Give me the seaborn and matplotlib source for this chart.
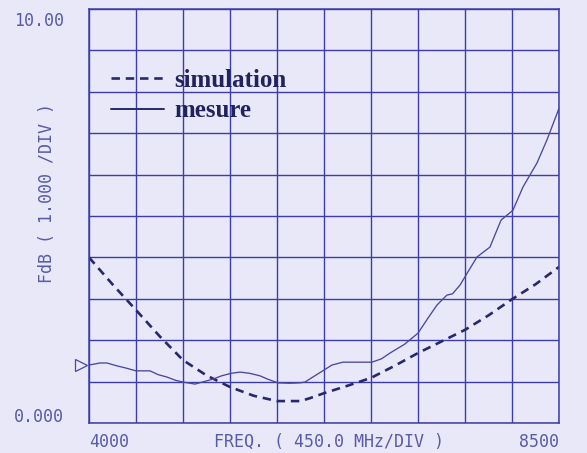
import numpy as np
import pandas as pd
import seaborn as sns
import matplotlib.pyplot as plt
from matplotlib.lines import Line2D
from matplotlib.transforms import ScaledTranslation

# --- data (MHz, dB) ---
sim_freq = [4000, 4225, 4450, 4675, 4900, 5125, 5350, 5575, 5800, 6025, 6115,
            6250, 6475, 6700, 6925, 7150, 7375, 7600, 7825, 8050, 8275, 8500]
sim_fdb = [4.00, 3.35, 2.73, 2.10, 1.52, 1.15, 0.87, 0.66, 0.53, 0.53, 0.60,
           0.72, 0.90, 1.09, 1.38, 1.69, 1.97, 2.25, 2.60, 2.99, 3.35, 3.77]

mes_freq = [4000, 4105, 4172, 4268, 4350, 4450, 4584, 4660, 4747, 4830, 4900,
            5015, 5100, 5187, 5270, 5360, 5446, 5540, 5637, 5720, 5810, 5920,
            6020, 6068, 6200, 6326, 6432, 6595, 6709, 6800, 6882, 7020, 7150,
            7250, 7332, 7427, 7480, 7552, 7640, 7715, 7839, 7945, 8059, 8155,
            8289, 8385, 8500]
mes_fdb = [1.40, 1.45, 1.45, 1.38, 1.33, 1.26, 1.26, 1.17, 1.11, 1.03, 0.99,
           0.94, 1.00, 1.06, 1.14, 1.20, 1.23, 1.20, 1.14, 1.05, 0.97, 0.96,
           0.97, 0.99, 1.20, 1.40, 1.47, 1.47, 1.47, 1.55, 1.69, 1.90, 2.17,
           2.55, 2.85, 3.09, 3.12, 3.33, 3.70, 4.01, 4.25, 4.90, 5.14, 5.70,
           6.28, 6.84, 7.60]

x_ticks = [4000, 8500]
y_ticks = [0.0, 10.0]
x_label = "FREQ. ( 450.0 MHz/DIV )"
y_label = "FdB ( 1.000 /DIV )"

sim = pd.DataFrame({"freq": sim_freq, "fdb": sim_fdb})
mes = pd.DataFrame({"freq": mes_freq, "fdb": mes_fdb})

bg = "#e8e8f8"
grid_col = "#3c3caa"
text_col = "#5a5aaa"
sim_col = "#28286e"
mes_col = "#4848a2"

sns.set_theme(style="white")
plt.rcParams["font.family"] = ["DejaVu Sans Mono"]

fig = plt.figure(figsize=(5.87, 4.53), dpi=100, facecolor=bg)
ax = fig.add_axes([0.1516, 0.0662, 0.8007, 0.9139])
ax.set_facecolor(bg)

sns.lineplot(data=sim, x="freq", y="fdb", ax=ax, color=sim_col, lw=1.9)
ax.lines[-1].set_dashes((3.2, 2.2))
sns.lineplot(data=mes, x="freq", y="fdb", ax=ax, color=mes_col, lw=0.95)

ax.set_xlim(x_ticks[0], x_ticks[1])
ax.set_ylim(y_ticks[0], y_ticks[1])

# 10 x 10 division grid
ax.set_xticks(np.linspace(x_ticks[0], x_ticks[1], 11))
ax.set_yticks(np.linspace(y_ticks[0], y_ticks[1], 11))
ax.grid(True, color=grid_col, lw=1.0)
ax.tick_params(length=0, labelbottom=False, labelleft=False)
for s in ax.spines.values():
    s.set_color(grid_col)
    s.set_linewidth(1.1)
ax.set_xlabel("")
ax.set_ylabel("")

# hollow start marker of the trace, just left of the frame
ax.plot([mes_freq[0]], [mes_fdb[0]], marker=">", ms=9, mfc="none", mec=mes_col,
        mew=0.9, clip_on=False,
        transform=ax.transData + ScaledTranslation(-8 / 100, 0, fig.dpi_scale_trans))

# analyser style labels
tkw = dict(color=text_col, fontsize=12, family="DejaVu Sans Mono")
ax.text(-0.16, 0.97, f"{y_ticks[1]:.2f}", transform=ax.transAxes, ha="left", va="center", **tkw)
ax.text(-0.16, 0.015, f"{y_ticks[0]:.3f}", transform=ax.transAxes, ha="left", va="center", **tkw)
ax.text(0.0, -0.045, str(x_ticks[0]), transform=ax.transAxes, ha="left", va="center", **tkw)
ax.text(1.0, -0.045, str(x_ticks[1]), transform=ax.transAxes, ha="right", va="center", **tkw)
ax.text(0.51, -0.045, x_label, transform=ax.transAxes, ha="center", va="center", **tkw)
ax.text(-0.09, 0.555, y_label, transform=ax.transAxes, ha="center", va="center",
        rotation=90, **tkw)

handles = [Line2D([], [], color=sim_col, lw=1.9, dashes=(3.2, 2.2)),
           Line2D([], [], color=sim_col, lw=1.4)]
leg = ax.legend(handles, ["simulation", "mesure"], loc="upper left",
                bbox_to_anchor=(0.0, 0.91), frameon=False, handlelength=2.1,
                handletextpad=0.4, labelspacing=0.3,
                prop={"family": "Liberation Serif", "weight": "bold", "size": 18})
for t in leg.get_texts():
    t.set_color("#22225e")

fig.savefig("out.png", dpi=100, facecolor=bg)
